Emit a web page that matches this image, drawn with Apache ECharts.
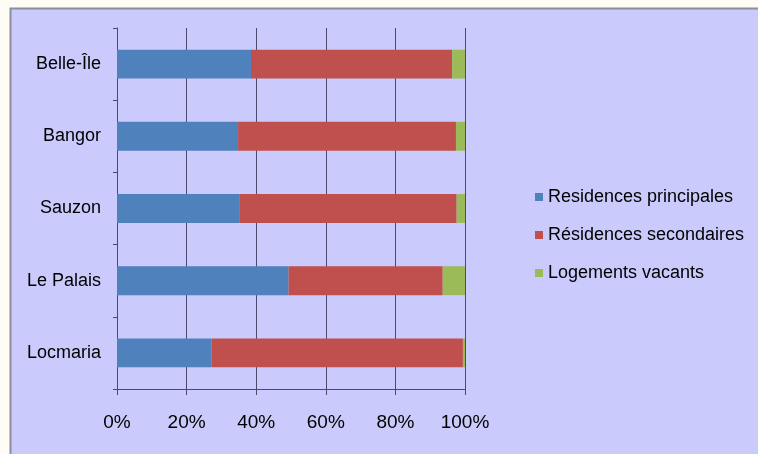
<!DOCTYPE html>
<html>
<head>
<meta charset="utf-8">
<script src="https://cdn.jsdelivr.net/npm/echarts@6/dist/echarts.min.js"></script>
<style>
html,body{margin:0;padding:0;background:#cacafc;overflow:hidden;}
#c{width:758px;height:454px;}
</style>
</head>
<body>
<div id="c"></div>
<script>
var categories = ['Belle-Île', 'Bangor', 'Sauzon', 'Le Palais', 'Locmaria'];
var seriesNames = ['Residences principales', 'Résidences secondaires', 'Logements vacants'];
var principales = [38.5, 34.8, 35.3, 49.3, 27.2];
var secondaires = [57.8, 62.6, 62.3, 44.3, 72.2];
var vacants = [3.7, 2.6, 2.4, 6.4, 0.6];
var xTicks = [0, 20, 40, 60, 80, 100];

var colors = ['#4f81bd', '#c0504d', '#9bbb59'];
var font = 'Liberation Sans, Arial, sans-serif';
var chart = echarts.init(document.getElementById('c'));
var values = [principales, secondaires, vacants];
chart.setOption({
  animation: false,
  backgroundColor: '#cacafc',
  color: colors,
  graphic: [
    { type: 'rect', z: -100, silent: true, shape: { x: 0, y: 0, width: 758, height: 8 }, style: { fill: '#fdfdf6' } },
    { type: 'rect', z: -100, silent: true, shape: { x: 0, y: 0, width: 10, height: 454 }, style: { fill: '#fdfdf6' } },
    { type: 'polyline', z: -99, silent: true, shape: { points: [[10.5, 454], [10.5, 8.5], [758, 8.5]] }, style: { fill: null, stroke: '#8c8c9c', lineWidth: 2 } }
  ],
  grid: { left: 117, right: 293, top: 28, bottom: 65, containLabel: false },
  legend: {
    orient: 'vertical',
    left: 530,
    top: 183,
    itemWidth: 8,
    itemHeight: 8,
    itemGap: 20,
    icon: 'rect',
    textStyle: { fontFamily: font, fontSize: 18, color: '#000' },
    data: seriesNames
  },
  xAxis: {
    type: 'value',
    min: xTicks[0],
    max: xTicks[xTicks.length - 1],
    interval: 20,
    axisLine: { show: true, lineStyle: { color: '#4a4a6e', width: 1 } },
    axisTick: { show: true, length: 6, lineStyle: { color: '#4a4a6e' } },
    axisLabel: { formatter: '{value}%', margin: 24, fontFamily: font, fontSize: 19, color: '#000' },
    splitLine: { show: true, lineStyle: { color: '#4a4a6e', width: 1 } }
  },
  yAxis: {
    type: 'category',
    inverse: true,
    data: categories,
    axisLine: { show: true, lineStyle: { color: '#4a4a6e', width: 1 } },
    axisTick: { show: true, length: 4, lineStyle: { color: '#4a4a6e' } },
    axisLabel: { margin: 16, fontFamily: font, fontSize: 18, color: '#000' },
    splitLine: { show: false }
  },
  series: seriesNames.map(function (n, i) {
    return {
      name: n,
      type: 'bar',
      stack: 'total',
      barCategoryGap: '60%',
      data: values[i]
    };
  })
});
</script>
</body>
</html>
